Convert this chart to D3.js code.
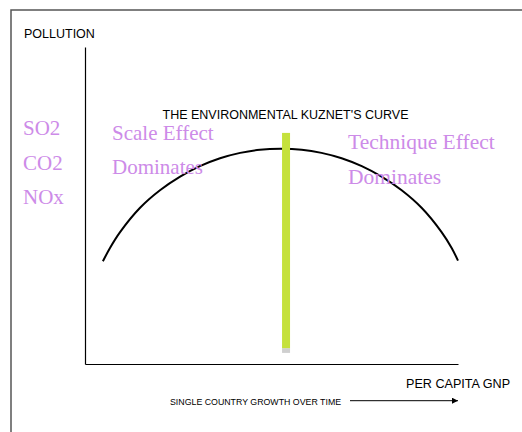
<!DOCTYPE html>
<html>
<head>
<meta charset="utf-8">
<script src="https://cdn.jsdelivr.net/npm/d3@7"></script>
<style>
  html, body { margin: 0; padding: 0; background: #fff; }
  svg { display: block; }
</style>
</head>
<body>
<svg id="chart" width="522" height="432"></svg>
<script>
// Per capita income (0-100) and pollution level (0-100) along the inverted-U curve
const income    = [4.8, 6.7, 9.4, 14.7, 20.1, 25.5, 30.8, 36.2, 41.6, 46.9, 52.5, 58.1, 63.4, 68.8, 74.2, 79.5, 84.9, 90.3, 95.6, 98.3, 100];
const pollution = [32.4, 36.6, 41.6, 49.2, 54.8, 59.1, 62.4, 64.9, 66.6, 67.6, 67.9, 67.6, 66.6, 64.9, 62.4, 59.1, 54.8, 49.2, 41.6, 36.6, 32.6];

// Turning point marker: income position and vertical extent
const turningIncome = [53.9];
const turningRange  = [3.5, 72.9];
const turningBase   = [5.0];

// Pollutants listed on the left
const pollutants = ["SO2", "CO2", "NOx"];
const leftLabel  = ["Scale Effect", "Dominates"];
const rightLabel = ["Technique Effect", "Dominates"];

const svg = d3.select("#chart");
const purple = "#cd8be8";

const x = d3.scaleLinear().domain([0, 100]).range([85, 458]);
const y = d3.scaleLinear().domain([0, 100]).range([364, 47]);

// Outer frame (top and left edges)
svg.append("path")
  .attr("d", "M11,432 V10 H522")
  .attr("fill", "none")
  .attr("stroke", "#555")
  .attr("stroke-width", 1.5);

// Axes as bare lines
svg.append("g")
  .attr("transform", `translate(${x(0)},0)`)
  .call(d3.axisLeft(y).ticks(0).tickSize(0).tickSizeOuter(0))
  .call(g => g.select(".domain").attr("stroke", "#000").attr("stroke-width", 1.2));

svg.append("g")
  .attr("transform", `translate(0,${y(0)})`)
  .call(d3.axisBottom(x).ticks(0).tickSize(0).tickSizeOuter(0))
  .call(g => g.select(".domain").attr("stroke", "#000").attr("stroke-width", 1.2));

// Kuznets curve
const line = d3.line()
  .x((d, i) => x(income[i]))
  .y((d, i) => y(pollution[i]))
  .curve(d3.curveCatmullRom);

svg.append("path")
  .datum(income)
  .attr("d", line)
  .attr("fill", "none")
  .attr("stroke", "#000")
  .attr("stroke-width", 2);

// Turning point bar
const barW = 8;
svg.selectAll("rect.base")
  .data(turningIncome)
  .join("rect")
  .attr("class", "base")
  .attr("x", d => x(d) - barW / 2)
  .attr("width", barW)
  .attr("y", y(turningBase[0]))
  .attr("height", y(turningRange[0]) - y(turningBase[0]))
  .attr("fill", "#cfcfcf");

svg.selectAll("rect.bar")
  .data(turningIncome)
  .join("rect")
  .attr("class", "bar")
  .attr("x", d => x(d) - barW / 2)
  .attr("width", barW)
  .attr("y", y(turningRange[1]))
  .attr("height", y(turningBase[0]) - y(turningRange[1]))
  .attr("fill", "#c5e13c");

// Black sans labels
const sans = "'Liberation Sans', Arial, sans-serif";
svg.append("text").attr("x", 24).attr("y", 37.5)
  .attr("font-family", sans).attr("font-size", 12.5).attr("fill", "#000")
  .text("POLLUTION");

svg.append("text").attr("x", 285.5).attr("y", 119)
  .attr("text-anchor", "middle")
  .attr("font-family", sans).attr("font-size", 12.5).attr("fill", "#000")
  .text("THE ENVIRONMENTAL KUZNET'S CURVE");

svg.append("text").attr("x", 406).attr("y", 387.5)
  .attr("font-family", sans).attr("font-size", 12.6).attr("fill", "#000")
  .text("PER CAPITA GNP");

svg.append("text").attr("x", 170).attr("y", 404.5)
  .attr("font-family", sans).attr("font-size", 8.8).attr("fill", "#000")
  .text("SINGLE COUNTRY GROWTH OVER TIME");

// Time arrow
const defs = svg.append("defs");
defs.append("marker")
  .attr("id", "arrow")
  .attr("viewBox", "0 0 10 10")
  .attr("refX", 10).attr("refY", 5)
  .attr("markerWidth", 8).attr("markerHeight", 6)
  .attr("markerUnits", "userSpaceOnUse")
  .attr("orient", "auto")
  .append("path").attr("d", "M0,0 L10,5 L0,10 Z").attr("fill", "#000");

svg.append("line")
  .attr("x1", 350).attr("x2", 458)
  .attr("y1", 400.7).attr("y2", 400.7)
  .attr("stroke", "#000").attr("stroke-width", 1)
  .attr("marker-end", "url(#arrow)");

// Purple serif annotations
const serif = "'Liberation Serif', 'Times New Roman', serif";
svg.selectAll("text.pollutant")
  .data(pollutants)
  .join("text")
  .attr("class", "pollutant")
  .attr("x", 23)
  .attr("y", (d, i) => [135, 170, 203.5][i])
  .attr("font-family", serif).attr("font-size", 21).attr("fill", purple)
  .text(d => d);

svg.selectAll("text.left")
  .data(leftLabel)
  .join("text")
  .attr("class", "left")
  .attr("x", 112)
  .attr("y", (d, i) => [140, 174][i])
  .attr("font-family", serif).attr("font-size", 21).attr("fill", purple)
  .text(d => d);

svg.selectAll("text.right")
  .data(rightLabel)
  .join("text")
  .attr("class", "right")
  .attr("x", 348)
  .attr("y", (d, i) => [148.5, 183.5][i])
  .attr("font-family", serif).attr("font-size", 21.5).attr("fill", purple)
  .text(d => d);
</script>
</body>
</html>
